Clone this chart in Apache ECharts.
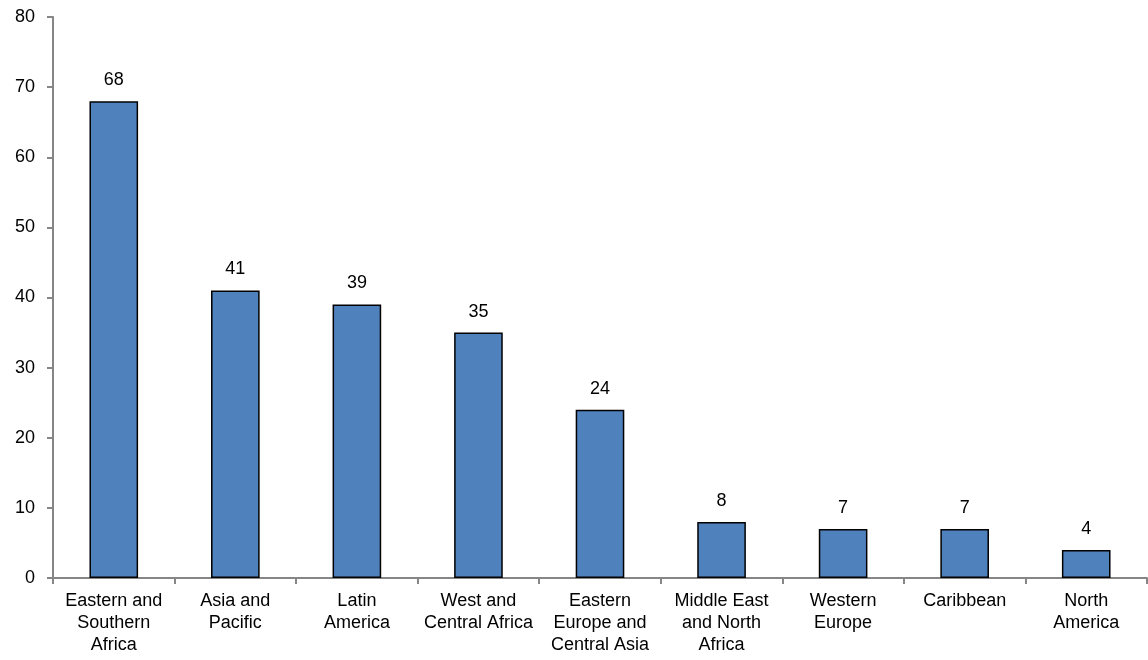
<!DOCTYPE html>
<html>
<head>
<meta charset="utf-8">
<script src="https://cdn.jsdelivr.net/npm/echarts@6/dist/echarts.min.js"></script>
<style>
  html, body { margin: 0; padding: 0; background: #fff; }
  #chart { width: 1148px; height: 660px; }
</style>
</head>
<body>
<div id="chart"></div>
<script>
var regions = ['Eastern and\nSouthern\nAfrica', 'Asia and\nPacific', 'Latin\nAmerica', 'West and\nCentral Africa',
  'Eastern\nEurope and\nCentral Asia', 'Middle East\nand North\nAfrica', 'Western\nEurope', 'Caribbean', 'North\nAmerica'];
var counts = [68, 41, 39, 35, 24, 8, 7, 7, 4];

var font = 'Liberation Sans, Arial, sans-serif';
var chart = echarts.init(document.getElementById('chart'));
chart.setOption({
  animation: false,
  grid: { left: 53, right: 1, top: 17, bottom: 82 },
  xAxis: {
    type: 'category',
    data: regions,
    axisLine: { lineStyle: { color: '#868686', width: 2 } },
    axisTick: { show: true, alignWithLabel: false, length: 6, lineStyle: { color: '#868686', width: 2 } },
    axisLabel: { color: '#000', fontFamily: font, fontSize: 18, lineHeight: 22, margin: 12, interval: 0 }
  },
  yAxis: {
    type: 'value',
    min: 0, max: 80, interval: 10,
    splitLine: { show: false },
    axisLine: { show: true, lineStyle: { color: '#868686', width: 2 } },
    axisTick: { show: true, length: 6, lineStyle: { color: '#868686', width: 2 } },
    axisLabel: { color: '#000', fontFamily: font, fontSize: 18, margin: 18 }
  },
  series: [{
    type: 'bar',
    data: counts,
    barWidth: '40%',
    itemStyle: { color: '#4F81BD', borderColor: '#000', borderWidth: 1.5 },
    label: { show: true, position: 'top', distance: 12, color: '#000', fontFamily: font, fontSize: 18 }
  }]
});
</script>
</body>
</html>
